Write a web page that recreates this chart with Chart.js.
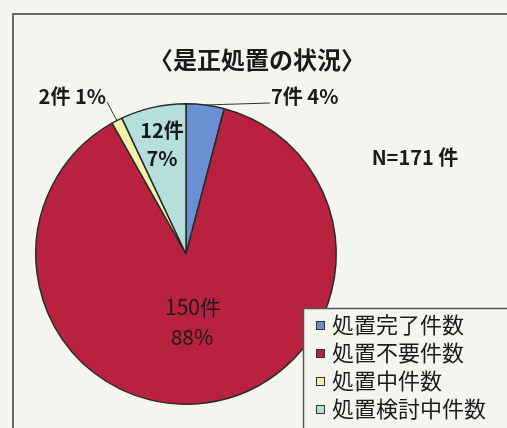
<!DOCTYPE html>
<html><head><meta charset="utf-8">
<script src="https://cdn.jsdelivr.net/npm/chart.js@4.4.1/dist/chart.umd.min.js"></script>
<style>
html,body{margin:0;padding:0;background:#f4f5ef;}
#wrap{position:relative;width:507px;height:428px;overflow:hidden;}
canvas{display:block;}
</style></head>
<body><div id="wrap"><canvas id="c" width="507" height="428"></canvas></div>
<script>
const titleText = '〈是正処置の状況〉';
const categories = ['処置完了件数', '処置不要件数', '処置中件数', '処置検討中件数'];
const counts = [7, 150, 2, 12];
const percents = [4, 88, 1, 7];
const totalLabel = 'N=171 件';
const colors = ['#6b8fd3', '#b8223f', '#f4f1ac', '#b4dfdc'];

const FONT = '"Noto Sans CJK JP", "Noto Sans", sans-serif';

const decor = {
  id: 'decor',
  beforeDraw(chart) {
    const ctx = chart.ctx;
    ctx.save();
    ctx.fillStyle = '#f4f5ef';
    ctx.fillRect(0, 0, chart.width, chart.height);
    ctx.strokeStyle = '#6a6a6a';
    ctx.lineWidth = 2;
    ctx.beginPath();
    ctx.moveTo(13, 440); ctx.lineTo(13, 14); ctx.lineTo(520, 14);
    ctx.stroke();
    ctx.restore();
  },
  afterDraw(chart) {
    const ctx = chart.ctx;
    const meta = chart.getDatasetMeta(0);
    const arcs = meta.data;
    ctx.save();
    ctx.fillStyle = '#1a1a1a';
    ctx.textAlign = 'center';
    ctx.textBaseline = 'middle';
    // title
    ctx.font = 'bold 24px ' + FONT;
    ctx.fillText(titleText, 257, 60);
    // N label
    ctx.font = 'bold 20px ' + FONT;
    ctx.fillText(totalLabel, 415, 157);

    const pt = (a, r) => {
      const ang = (a.startAngle + a.endAngle) / 2;
      return [a.x + Math.cos(ang) * r, a.y + Math.sin(ang) * r];
    };
    ctx.font = 'bold 20px ' + FONT;
    ctx.strokeStyle = '#333';
    ctx.lineWidth = 1;
    // slice 0 (outside, right)
    let a = arcs[0];
    let p = pt(a, a.outerRadius);
    ctx.beginPath(); ctx.moveTo(p[0], p[1]); ctx.lineTo(270, 103); ctx.stroke();
    ctx.textAlign = 'left';
    ctx.fillText(counts[0] + '件 ' + percents[0] + '%', 271, 96);
    // slice 2 (outside, left)
    a = arcs[2];
    p = pt(a, a.outerRadius);
    ctx.beginPath(); ctx.moveTo(p[0], p[1]); ctx.lineTo(107, 102); ctx.stroke();
    ctx.textAlign = 'right';
    ctx.fillText(counts[2] + '件 ' + percents[2] + '%', 106, 96);
    // slice 3 inside
    ctx.textAlign = 'center';
    ctx.fillText(counts[3] + '件', 162, 130);
    ctx.fillText(percents[3] + '%', 162, 158);
    // slice 1 inside
    ctx.font = '21px ' + FONT;
    ctx.fillText(counts[1] + '件', 193, 307);
    ctx.fillText(percents[1] + '%', 192, 337);

    // legend box
    ctx.fillStyle = '#f4f5ef';
    ctx.fillRect(303, 308, 220, 140);
    ctx.strokeStyle = '#555';
    ctx.lineWidth = 1.5;
    ctx.strokeRect(303.5, 308.5, 220, 140);
    ctx.font = '22px ' + FONT;
    ctx.textAlign = 'left';
    categories.forEach((c, i) => {
      const y = 325 + i * 28;
      ctx.fillStyle = colors[i];
      ctx.fillRect(316, y - 4, 9, 9);
      ctx.strokeStyle = '#333';
      ctx.lineWidth = 1;
      ctx.strokeRect(316.5, y - 3.5, 8, 8);
      ctx.fillStyle = '#1a1a1a';
      ctx.fillText(c, 332, y);
    });
    ctx.restore();
  }
};

new Chart(document.getElementById('c'), {
  type: 'pie',
  data: {
    labels: categories,
    datasets: [{
      data: counts,
      backgroundColor: colors,
      borderColor: '#2a2a2a',
      borderWidth: 1.5
    }]
  },
  options: {
    responsive: false,
    animation: false,
    layout: { padding: { left: 35, right: 170, top: 103, bottom: 23 } },
    plugins: { legend: { display: false }, title: { display: false }, tooltip: { enabled: false } }
  },
  plugins: [decor]
});
</script>
</body></html>
